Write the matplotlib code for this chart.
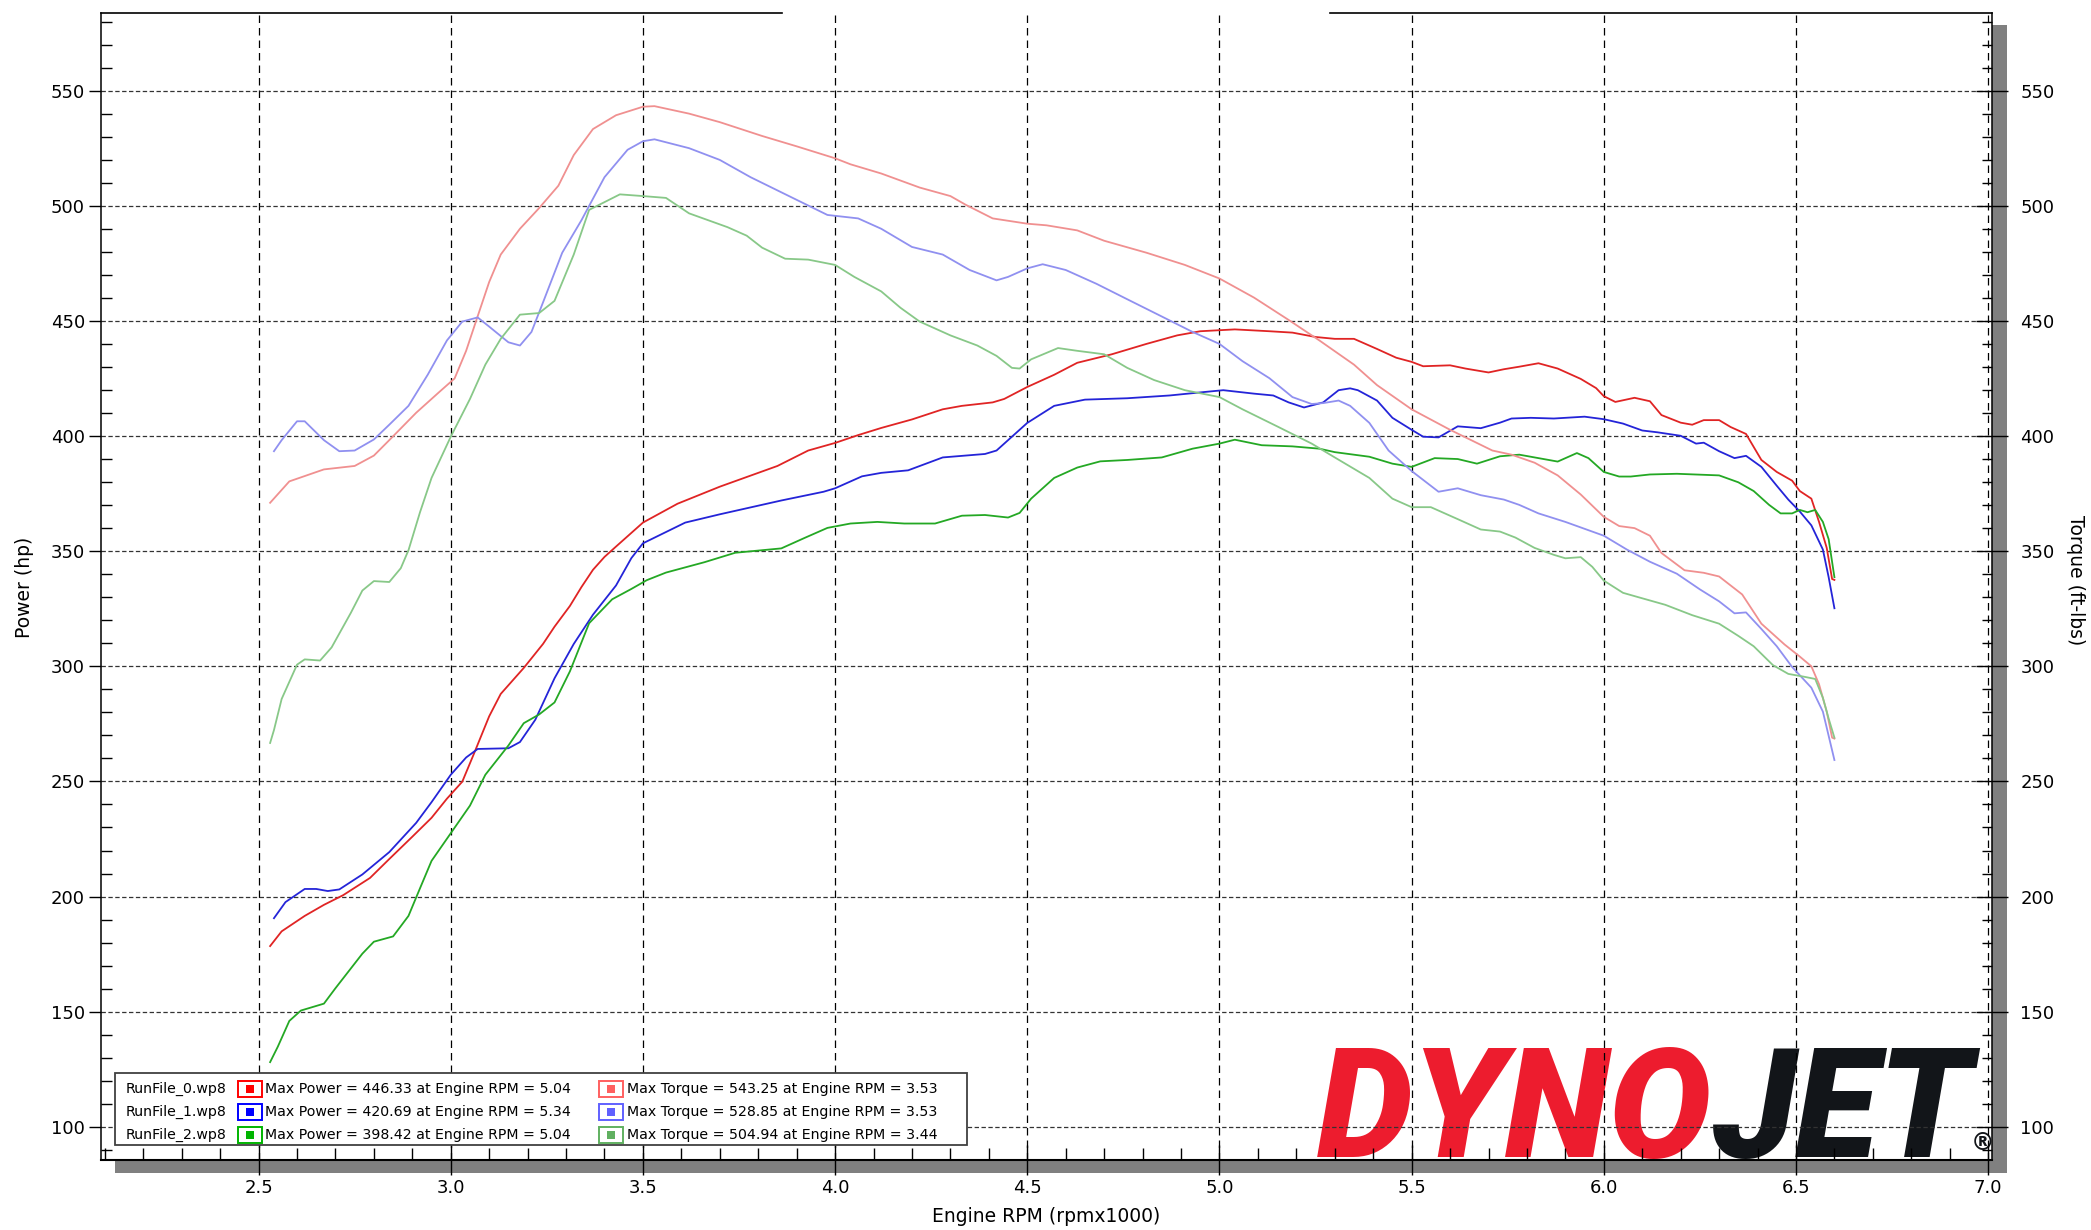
import matplotlib
matplotlib.use("Agg")
import matplotlib.pyplot as plt
from matplotlib.patches import Rectangle
from matplotlib.ticker import MultipleLocator, FormatStrFormatter

# ---- run 0 (red) ----
rpm_pwr0 = [2.53, 2.56, 2.62, 2.67, 2.72, 2.79, 2.84, 2.90, 2.95, 2.99, 3.03, 3.06, 3.10, 3.13,
            3.19, 3.24, 3.27, 3.31, 3.34, 3.37, 3.40, 3.43, 3.50, 3.59, 3.70, 3.85, 3.93, 4.00,
            4.06, 4.12, 4.20, 4.28, 4.33, 4.41, 4.44, 4.50, 4.57, 4.63, 4.72, 4.81, 4.89, 4.95,
            5.04, 5.13, 5.19, 5.25, 5.30, 5.35, 5.41, 5.46, 5.50, 5.53, 5.60, 5.64, 5.70, 5.74,
            5.78, 5.83, 5.88, 5.94, 5.98, 6.00, 6.03, 6.08, 6.12, 6.15, 6.20, 6.23, 6.26, 6.30,
            6.33, 6.37, 6.41, 6.45, 6.49, 6.51, 6.54, 6.56, 6.58, 6.594, 6.60]
hp_run0 = [178.5, 184.9, 191.6, 196.4, 200.6, 208.1, 216.3, 226.0, 234.2, 242.5, 249.9, 261.9,
           278.3, 288.0, 299.3, 309.7, 317.2, 326.2, 334.4, 341.9, 347.5, 352.0, 362.4, 370.6,
           378.0, 387.0, 393.7, 397.0, 400.4, 403.5, 407.2, 411.6, 413.1, 414.6, 416.1, 421.3,
           426.6, 431.8, 435.5, 440.0, 443.7, 445.5, 446.3, 445.5, 444.9, 443.0, 442.2, 442.2,
           437.8, 434.0, 432.2, 430.3, 430.7, 429.3, 427.6, 429.0, 430.1, 431.6, 429.3, 424.8,
           420.8, 417.3, 414.8, 416.6, 415.1, 409.1, 405.8, 404.9, 406.9, 406.9, 403.9, 400.9,
           389.6, 384.4, 380.6, 376.1, 372.8, 362.7, 351.4, 337.9, 337.5]
rpm_trq0 = [2.53, 2.58, 2.67, 2.75, 2.80, 2.84, 2.91, 2.97, 3.01, 3.04, 3.07, 3.10, 3.13, 3.18,
            3.23, 3.28, 3.32, 3.37, 3.43, 3.50, 3.53, 3.62, 3.70, 3.81, 3.90, 4.00, 4.04, 4.12,
            4.22, 4.30, 4.34, 4.41, 4.50, 4.55, 4.63, 4.70, 4.81, 4.91, 5.00, 5.09, 5.18, 5.26,
            5.35, 5.41, 5.50, 5.60, 5.71, 5.76, 5.82, 5.88, 5.94, 6.00, 6.04, 6.08, 6.12, 6.15,
            6.21, 6.26, 6.30, 6.36, 6.41, 6.47, 6.51, 6.54, 6.56, 6.58, 6.594, 6.60]
tq_run0 = [371.0, 380.3, 385.5, 387.0, 391.5, 398.2, 410.1, 419.1, 425.0, 437.0, 452.0, 466.9,
           478.8, 490.0, 499.0, 508.7, 522.0, 533.3, 539.3, 543.0, 543.25, 540.0, 536.3, 530.3,
           525.8, 520.6, 518.0, 514.0, 507.9, 504.2, 500.4, 494.5, 492.2, 491.5, 489.3, 484.8,
           479.6, 474.3, 468.4, 460.1, 450.4, 441.5, 431.0, 422.1, 411.6, 402.7, 393.7, 391.9,
           388.4, 382.9, 374.6, 364.9, 360.9, 360.0, 356.7, 349.2, 341.7, 340.6, 339.0, 331.2,
           318.5, 309.5, 304.2, 300.0, 292.2, 280.3, 269.0, 268.6]

# ---- run 1 (blue) ----
rpm_pwr1 = [2.54, 2.57, 2.62, 2.65, 2.68, 2.71, 2.77, 2.84, 2.91, 2.95, 3.00, 3.04, 3.07, 3.15,
            3.18, 3.22, 3.27, 3.32, 3.37, 3.43, 3.47, 3.50, 3.61, 3.70, 3.86, 3.97, 4.00, 4.07,
            4.12, 4.19, 4.28, 4.39, 4.42, 4.46, 4.50, 4.57, 4.65, 4.76, 4.87, 4.96, 5.01, 5.09,
            5.14, 5.18, 5.22, 5.27, 5.31, 5.34, 5.36, 5.41, 5.45, 5.50, 5.53, 5.57, 5.62, 5.68,
            5.73, 5.76, 5.81, 5.87, 5.95, 6.00, 6.05, 6.10, 6.14, 6.20, 6.24, 6.26, 6.30, 6.34,
            6.37, 6.41, 6.45, 6.48, 6.51, 6.54, 6.57, 6.585, 6.60]
hp_run1 = [190.6, 197.6, 203.3, 203.3, 202.4, 203.1, 209.6, 219.3, 232.0, 241.0, 252.9, 260.4,
           264.1, 264.4, 267.1, 276.8, 294.8, 309.7, 322.4, 335.1, 347.0, 353.4, 362.4, 366.0,
           372.0, 375.8, 377.3, 382.5, 384.0, 385.1, 390.7, 392.2, 393.7, 399.7, 405.7, 413.1,
           415.8, 416.4, 417.6, 419.1, 419.9, 418.4, 417.6, 414.6, 412.4, 414.6, 419.9, 420.7,
           419.9, 415.4, 407.9, 402.7, 399.7, 399.4, 404.2, 403.4, 405.8, 407.6, 407.9, 407.6,
           408.4, 407.3, 405.4, 402.4, 401.6, 400.1, 396.7, 397.1, 393.4, 390.4, 391.4, 386.6,
           378.4, 372.4, 367.2, 361.2, 350.7, 338.7, 325.2]
rpm_trq1 = [2.54, 2.56, 2.60, 2.62, 2.67, 2.71, 2.75, 2.80, 2.84, 2.89, 2.94, 2.99, 3.03, 3.07,
            3.10, 3.15, 3.18, 3.21, 3.24, 3.29, 3.34, 3.40, 3.46, 3.50, 3.53, 3.62, 3.70, 3.78,
            3.88, 3.98, 4.06, 4.12, 4.20, 4.28, 4.35, 4.42, 4.45, 4.50, 4.54, 4.60, 4.68, 4.76,
            4.85, 4.93, 5.00, 5.06, 5.13, 5.19, 5.24, 5.27, 5.31, 5.34, 5.39, 5.44, 5.50, 5.57,
            5.62, 5.68, 5.74, 5.78, 5.83, 5.90, 5.95, 6.00, 6.06, 6.12, 6.19, 6.25, 6.30, 6.34,
            6.37, 6.41, 6.45, 6.49, 6.54, 6.57, 6.585, 6.60]
tq_run1 = [393.4, 398.2, 406.4, 406.4, 398.2, 393.4, 393.7, 398.5, 404.9, 413.1, 426.6, 441.5,
           449.7, 451.5, 447.5, 440.7, 439.3, 445.2, 458.0, 479.6, 493.7, 512.4, 524.3, 528.0,
           528.85, 525.0, 519.9, 512.4, 504.2, 496.0, 494.5, 490.0, 482.1, 478.8, 472.1, 467.6,
           469.1, 472.8, 474.6, 472.1, 466.1, 459.4, 451.9, 445.2, 440.0, 432.5, 425.1, 416.9,
           413.9, 414.3, 415.4, 413.1, 405.7, 393.7, 384.8, 375.8, 377.3, 374.3, 372.4, 370.1,
           366.4, 362.7, 359.7, 356.7, 350.7, 345.4, 340.2, 333.4, 328.2, 323.0, 323.4, 316.2,
           308.7, 299.7, 290.7, 280.3, 269.8, 259.3]

# ---- run 2 (green) ----
rpm_pwr2 = [2.53, 2.55, 2.58, 2.61, 2.67, 2.70, 2.77, 2.80, 2.85, 2.89, 2.92, 2.95, 3.00, 3.05,
            3.09, 3.15, 3.19, 3.23, 3.27, 3.31, 3.36, 3.42, 3.47, 3.51, 3.56, 3.66, 3.74, 3.86,
            3.92, 3.98, 4.04, 4.11, 4.18, 4.26, 4.33, 4.39, 4.45, 4.48, 4.51, 4.57, 4.63, 4.69,
            4.76, 4.85, 4.93, 5.00, 5.04, 5.11, 5.19, 5.26, 5.30, 5.39, 5.45, 5.50, 5.56, 5.62,
            5.67, 5.73, 5.78, 5.83, 5.88, 5.93, 5.96, 6.00, 6.04, 6.07, 6.12, 6.19, 6.30, 6.35,
            6.39, 6.43, 6.46, 6.49, 6.51, 6.53, 6.55, 6.57, 6.585, 6.60]
hp_run2 = [128.1, 134.8, 146.0, 150.5, 153.5, 160.2, 175.2, 180.4, 182.7, 191.6, 203.6, 215.5,
           227.5, 239.5, 252.9, 265.6, 275.3, 279.1, 284.3, 297.8, 318.7, 329.1, 333.6, 337.4,
           340.7, 345.2, 349.3, 351.2, 355.7, 360.1, 362.0, 362.7, 362.0, 362.0, 365.4, 365.7,
           364.6, 366.6, 372.8, 381.8, 386.3, 389.0, 389.6, 390.7, 394.5, 396.7, 398.4, 396.0,
           395.5, 394.5, 393.0, 391.0, 388.0, 386.6, 390.4, 390.0, 388.0, 391.2, 391.9, 390.4,
           388.9, 392.6, 390.4, 384.4, 382.4, 382.4, 383.3, 383.6, 382.9, 379.9, 376.1, 370.1,
           366.4, 366.4, 367.9, 366.9, 367.9, 362.7, 355.2, 338.7]
rpm_trq2 = [2.53, 2.54, 2.56, 2.60, 2.62, 2.66, 2.69, 2.74, 2.77, 2.80, 2.84, 2.87, 2.89, 2.92,
            2.95, 3.00, 3.05, 3.09, 3.13, 3.18, 3.23, 3.27, 3.32, 3.36, 3.44, 3.50, 3.56, 3.62,
            3.72, 3.77, 3.81, 3.87, 3.93, 4.00, 4.05, 4.12, 4.17, 4.22, 4.30, 4.37, 4.42, 4.46,
            4.48, 4.51, 4.58, 4.63, 4.70, 4.76, 4.83, 4.91, 5.00, 5.06, 5.15, 5.24, 5.30, 5.39,
            5.45, 5.50, 5.55, 5.62, 5.68, 5.73, 5.77, 5.82, 5.87, 5.90, 5.94, 5.97, 6.00, 6.05,
            6.09, 6.16, 6.23, 6.30, 6.35, 6.39, 6.44, 6.48, 6.52, 6.55, 6.57, 6.585, 6.60]
tq_run2 = [266.7, 272.3, 285.8, 300.7, 303.0, 302.5, 308.2, 323.2, 332.9, 337.0, 336.6, 342.6,
           350.4, 366.9, 381.8, 399.7, 416.1, 431.0, 442.2, 452.7, 453.4, 458.7, 478.8, 498.2,
           504.94, 504.2, 503.4, 496.7, 490.7, 487.0, 481.8, 477.0, 476.6, 474.3, 469.1, 462.8,
           455.7, 449.7, 443.7, 439.3, 434.8, 429.6, 429.3, 433.3, 438.2, 437.0, 435.5, 429.6,
           424.3, 419.9, 416.9, 411.6, 404.2, 396.7, 390.7, 381.8, 372.8, 369.1, 369.1, 363.9,
           359.4, 358.5, 355.9, 351.4, 348.4, 346.9, 347.4, 343.2, 337.2, 331.9, 330.0, 326.7,
           322.2, 318.5, 313.2, 308.7, 300.5, 296.7, 295.5, 294.5, 286.3, 277.3, 269.0]

run_names = ["RunFile_0.wp8", "RunFile_1.wp8", "RunFile_2.wp8"]
max_power = ["446.33", "420.69", "398.42"]
max_power_rpm = ["5.04", "5.34", "5.04"]
max_torque = ["543.25", "528.85", "504.94"]
max_torque_rpm = ["3.53", "3.53", "3.44"]

power_colors = ["#e02424", "#2424d8", "#24a824"]
torque_colors = ["#f09090", "#9090f0", "#88c888"]
swatch_power = ["#ff0000", "#0000ff", "#00b400"]
swatch_torque = ["#ff6060", "#6060ff", "#60b060"]

W, H = 2091, 1230
L, R, T, B = 101, 1992, 13, 1160


def ax_pos(px, py):
    return (px - L) / (R - L), (B - py) / (B - T)


fig = plt.figure(figsize=(W / 100, H / 100), dpi=100)
fig.patch.set_facecolor("white")

# drop shadow behind the plot frame
shadow = Rectangle((115 / W, 1 - 1173 / H), (2007 - 115) / W, (1173 - 25) / H,
                   transform=fig.transFigure, facecolor="#808080", edgecolor="none", zorder=-5)
fig.add_artist(shadow)

ax = fig.add_axes([L / W, 1 - B / H, (R - L) / W, (B - T) / H])
ax.set_facecolor("white")
ax2 = ax.twinx()

ax.set_xlim(2.09, 7.01)
for a in (ax, ax2):
    a.set_ylim(85.6, 583.7)
    a.yaxis.set_major_locator(MultipleLocator(50))
    a.yaxis.set_minor_locator(MultipleLocator(10))

ax.xaxis.set_major_locator(MultipleLocator(0.5))
ax.xaxis.set_minor_locator(MultipleLocator(0.1))
ax.xaxis.set_major_formatter(FormatStrFormatter("%.1f"))

# spines
for s in ("top", "right"):
    ax.spines[s].set_visible(False)
for s in ("top", "left", "bottom"):
    ax2.spines[s].set_visible(False)
ax.spines["left"].set_linewidth(1.1)
ax.spines["bottom"].set_linewidth(1.5)
ax2.spines["right"].set_linewidth(1.1)
# top frame with a gap in the middle
ax.plot([0, 0.360], [1, 1], transform=ax.transAxes, color="black", lw=1.2, clip_on=False)
ax.plot([0.650, 1.0], [1, 1], transform=ax.transAxes, color="black", lw=1.2, clip_on=False)

# ticks
ax.tick_params(axis="x", which="major", direction="inout", length=22, width=1.0,
               labelsize=13, pad=3, colors="black")
ax.tick_params(axis="x", which="minor", direction="in", length=9, width=1.0)
ax.tick_params(axis="y", which="major", direction="out", length=8.5, width=1.0,
               labelsize=13, pad=3)
ax.tick_params(axis="y", which="minor", direction="in", length=8, width=1.0)
ax2.tick_params(axis="y", which="major", direction="inout", length=23, width=1.0,
                labelsize=13, pad=9)
ax2.tick_params(axis="y", which="minor", direction="in", length=7, width=1.0)

# grid
ax.grid(True, axis="x", which="major", color="black", lw=0.9, linestyle=(0, (6, 4)))
ax.grid(True, axis="y", which="major", color="#333333", lw=0.9, linestyle=(0, (3.5, 2)))
ax.set_axisbelow("line")

# axis labels
ax.set_xlabel("Engine RPM (rpmx1000)", fontsize=13.5)
ax.xaxis.set_label_coords(0.5, ax_pos(0, 1216)[1])
ax.xaxis.label.set_va("center")
ax.set_ylabel("Power (hp)", fontsize=13.5)
ax.yaxis.set_label_coords(ax_pos(25, 0)[0], ax_pos(0, 587)[1])
ax.yaxis.label.set_va("center")
ax2.set_ylabel("Torque (ft-lbs)", fontsize=13.5, rotation=270)
ax2.yaxis.set_label_coords(ax_pos(2076, 0)[0], ax_pos(0, 580)[1])
ax2.yaxis.label.set_va("center")

# logo (under the grid)
lx, ly = ax_pos(1712, 1157)
ax.text(lx, ly, "DYNO", transform=ax.transAxes, ha="right", va="baseline",
        fontsize=110, fontweight=900, fontstyle="italic", family=["Roboto", "DejaVu Sans"],
        color="#ed1c2e", zorder=1)
ax.text(lx, ly, "JET", transform=ax.transAxes, ha="left", va="baseline",
        fontsize=110, fontweight=900, fontstyle="italic", family=["Roboto", "DejaVu Sans"],
        color="#121519", zorder=1)
rx, ry = ax_pos(1983, 1143)
ax.text(rx, ry, "\u00ae", transform=ax.transAxes, ha="center", va="center",
        fontsize=17, fontweight="bold", color="#121519", zorder=1)

# curves
ax.plot(rpm_pwr0, hp_run0, color=power_colors[0], lw=1.3, zorder=3)
ax.plot(rpm_pwr1, hp_run1, color=power_colors[1], lw=1.3, zorder=3)
ax.plot(rpm_pwr2, hp_run2, color=power_colors[2], lw=1.3, zorder=3)
ax2.plot(rpm_trq0, tq_run0, color=torque_colors[0], lw=1.3, zorder=3)
ax2.plot(rpm_trq1, tq_run1, color=torque_colors[1], lw=1.3, zorder=3)
ax2.plot(rpm_trq2, tq_run2, color=torque_colors[2], lw=1.3, zorder=3)

# legend box
x0, y0 = ax_pos(115, 1145)
x1, y1 = ax_pos(967, 1073)
ax2.add_patch(Rectangle((x0, y0), x1 - x0, y1 - y0, transform=ax2.transAxes,
                        facecolor="white", edgecolor="#404040", lw=1.3, zorder=10))
row_y = [1089, 1112, 1135]
for i in range(3):
    py = row_y[i]
    tx, ty = ax_pos(126, py)
    ax2.text(tx, ty, run_names[i], transform=ax2.transAxes, fontsize=10.2,
             ha="left", va="center", zorder=11)
    for sx, c_line, txt_x, txt in [
        (238, swatch_power[i], 265,
         "Max Power = %s at Engine RPM = %s" % (max_power[i], max_power_rpm[i])),
        (599, swatch_torque[i], 627,
         "Max Torque = %s at Engine RPM = %s" % (max_torque[i], max_torque_rpm[i])),
    ]:
        bx0, by0 = ax_pos(sx, py + 8)
        bx1, by1 = ax_pos(sx + 24, py - 8)
        ax2.add_patch(Rectangle((bx0, by0), bx1 - bx0, by1 - by0, transform=ax2.transAxes,
                                facecolor="white", edgecolor=c_line, lw=1.4, zorder=11))
        ix0, iy0 = ax_pos(sx + 8, py + 4)
        ix1, iy1 = ax_pos(sx + 16, py - 4)
        ax2.add_patch(Rectangle((ix0, iy0), ix1 - ix0, iy1 - iy0, transform=ax2.transAxes,
                                facecolor=c_line, edgecolor="none", zorder=12))
        tx, ty = ax_pos(txt_x, py)
        ax2.text(tx, ty, txt, transform=ax2.transAxes, fontsize=10.2,
                 ha="left", va="center", zorder=11)

fig.savefig("out.png", dpi=100, facecolor="white")
